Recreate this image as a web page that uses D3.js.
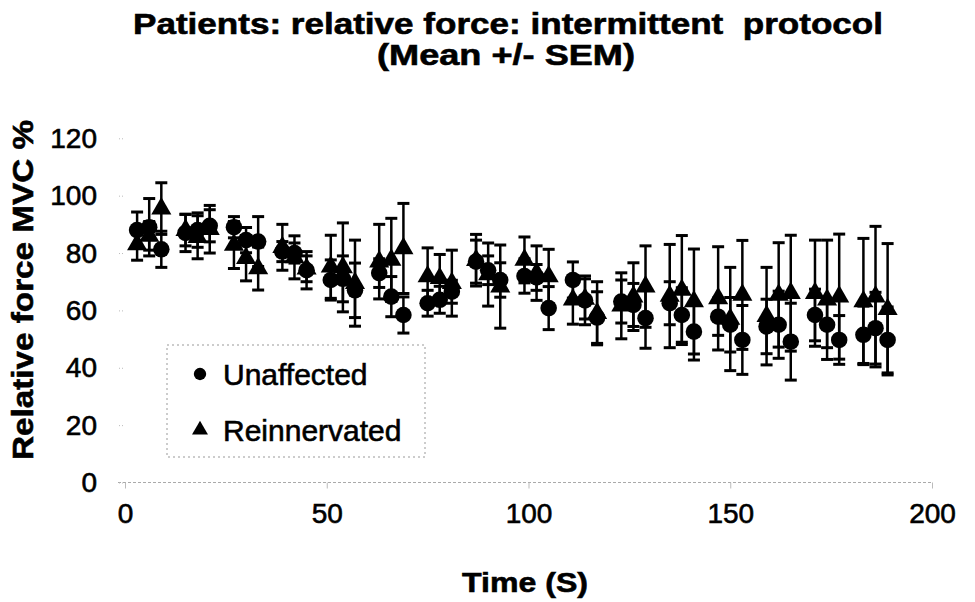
<!DOCTYPE html>
<html>
<head>
<meta charset="utf-8">
<script src="https://cdn.jsdelivr.net/npm/d3@7"></script>
<style>
  body { margin: 0; background: #fff; }
  svg text { font-family: "Liberation Sans", Arial, Helvetica, sans-serif; fill: #000; white-space: pre; }
  .heavy { stroke: #000; stroke-width: 0.6px; }
</style>
</head>
<body>
<svg id="chart"></svg>
<script>
// time (s) of each contraction
var times = [3, 6, 9, 15, 18, 21, 27, 30, 33, 39, 42, 45, 51, 54, 57, 63, 66, 69,
    75, 78, 81, 87, 90, 93, 99, 102, 105, 111, 114, 117, 123, 126, 129,
    135, 138, 141, 147, 150, 153, 159, 162, 165, 171, 174, 177, 183, 186, 189];

var unaffected = [88, 89, 81.3, 87, 88, 89.5, 89, 84.5, 84, 80.5, 80, 74, 70.6, 71, 67, 73,
    64.8, 58.4, 62.5, 63.7, 66.5, 77, 74, 70.6, 72, 71.5, 60.8, 70.6, 63.5, 57.5, 63.1,
    61.9, 57.3, 62.5, 58.4, 52.6, 57.8, 55, 49.7, 54.4, 55, 49.1, 58.4, 55, 49.7, 51.5, 53.8, 49.7];
var unaffectedSem = [6.3, 10, 6.3, 6.5, 6, 5.6, 3.7, 4.4, 8.7, 3.5, 3.5, 6.5, 7, 8, 9.5, 5,
    7, 6.3, 4.5, 4.7, 4, 7.5, 5, 6, 6, 4.5, 7.5, 6.3, 8.5, 9, 7.5,
    7.5, 10.5, 7.5, 9.5, 9.9, 6.5, 9.5, 12, 9.5, 11.7, 13.4, 9, 8, 8.5, 10, 12.5, 11.5];

var reinnervated = [83, 86, 95.5, 88, 85.5, 88.3, 82.8, 78.2, 74.6, 82, 78.5, 74.5, 75.2, 75, 69.5, 77,
    77.6, 81.6, 71.8, 71.2, 69.5, 77.5, 72.5, 68.3, 77.6, 73, 71.8, 63.7, 64, 59, 61.6,
    64.8, 68.3, 65, 67.1, 63.1, 64.2, 57, 65.4, 58, 65.4, 66, 66, 63.7, 64.8, 63.1, 64.8, 60.4];
var reinnervatedSem = [5.5, 5, 9, 5.5, 7.5, 8.3, 8.2, 7.9, 7.5, 8, 7.5, 4.5, 11, 15.5, 15, 13,
    14.5, 15.7, 10, 8.3, 11.5, 9, 11, 14.5, 8, 9.5, 9.5, 8.5, 7, 11, 11.5,
    11.8, 14.2, 18, 19, 18.3, 18, 18, 19, 17, 18.2, 20.2, 18.5, 20.8, 21.8, 22, 24.5, 22.9];

var xTicks = [0, 50, 100, 150, 200];
var yTicks = [0, 20, 40, 60, 80, 100, 120];
var seriesNames = ["Unaffected", "Reinnervated"];

var width = 975,
    height = 602;

var svg = d3.select("#chart")
    .attr("width", width)
    .attr("height", height);

var x = d3.scaleLinear()
    .domain([0, 200])
    .range([125, 932]);

var y = d3.scaleLinear()
    .domain([0, 120])
    .range([482.5, 138.3]);

// title
svg.append("text")
    .attr("x", 508)
    .attr("y", 34)
    .attr("text-anchor", "middle")
    .attr("class", "heavy")
    .style("font-size", "29px")
    .style("font-weight", "bold")
    .attr("textLength", 750)
    .attr("lengthAdjust", "spacingAndGlyphs")
    .text("Patients: relative force: intermittent  protocol");

svg.append("text")
    .attr("x", 506)
    .attr("y", 65)
    .attr("text-anchor", "middle")
    .attr("class", "heavy")
    .style("font-size", "29px")
    .style("font-weight", "bold")
    .attr("textLength", 258)
    .attr("lengthAdjust", "spacingAndGlyphs")
    .text("(Mean +/- SEM)");

// axes (faint, like the scanned excel chart)
var xAxis = d3.axisBottom(x)
    .tickValues(xTicks)
    .tickSize(6)
    .tickPadding(14);

var yAxis = d3.axisLeft(y)
    .tickValues(yTicks)
    .tickSize(5)
    .tickPadding(16);

var gx = svg.append("g")
    .attr("transform", "translate(0," + y(0) + ")")
    .call(xAxis);
gx.select(".domain")
    .attr("d", "M118,0H932")
    .attr("stroke", "#aaa")
    .attr("stroke-dasharray", "3,2");
gx.selectAll(".tick line").attr("stroke", "#bbb");
gx.selectAll(".tick text")
    .attr("class", "heavy")
    .style("font-size", "28px")
    .attr("dy", "0.72em");

var gy = svg.append("g")
    .attr("transform", "translate(123,0)")
    .call(yAxis);
gy.select(".domain").remove();
gy.selectAll(".tick line")
    .attr("stroke", "#bbb")
    .attr("stroke-dasharray", "1,2");
gy.selectAll(".tick text")
    .attr("class", "heavy")
    .style("font-size", "28px")
    .attr("x", -26);

svg.append("text")
    .attr("transform", "translate(33,290) rotate(-90)")
    .attr("text-anchor", "middle")
    .attr("class", "heavy")
    .style("font-size", "30px")
    .style("font-weight", "bold")
    .attr("textLength", 340)
    .attr("lengthAdjust", "spacingAndGlyphs")
    .text("Relative force MVC %");

svg.append("text")
    .attr("x", 525)
    .attr("y", 592)
    .attr("text-anchor", "middle")
    .attr("class", "heavy")
    .style("font-size", "28px")
    .style("font-weight", "bold")
    .attr("textLength", 126)
    .attr("lengthAdjust", "spacingAndGlyphs")
    .text("Time (S)");

// build rows for each series
var series = [
    { name: seriesNames[0], shape: d3.symbolCircle, size: 215, vals: unaffected, sem: unaffectedSem },
    { name: seriesNames[1], shape: d3.symbolTriangle, size: 175, vals: reinnervated, sem: reinnervatedSem }
];

series.forEach(function(s) {
    var rows = times.map(function(t, i) {
        return { t: t, v: s.vals[i], e: s.sem[i] };
    });
    var g = svg.append("g");

    var bars = g.selectAll(".err")
        .data(rows)
        .enter().append("g")
        .attr("class", "err");

    bars.append("line")
        .attr("x1", function(d) { return x(d.t); })
        .attr("x2", function(d) { return x(d.t); })
        .attr("y1", function(d) { return y(d.v + d.e); })
        .attr("y2", function(d) { return y(d.v - d.e); })
        .attr("stroke", "#000")
        .attr("stroke-width", 2.5);

    [1, -1].forEach(function(sign) {
        bars.append("line")
            .attr("x1", function(d) { return x(d.t) - 6; })
            .attr("x2", function(d) { return x(d.t) + 6; })
            .attr("y1", function(d) { return y(d.v + sign * d.e); })
            .attr("y2", function(d) { return y(d.v + sign * d.e); })
            .attr("stroke", "#000")
            .attr("stroke-width", 3);
    });

    g.selectAll(".pt")
        .data(rows)
        .enter().append("path")
        .attr("class", "pt")
        .attr("d", d3.symbol().type(s.shape).size(s.size))
        .attr("transform", function(d) {
            return "translate(" + x(d.t) + "," + y(d.v) + ")";
        })
        .attr("fill", "#000");
});

// legend
var legend = svg.append("g");
legend.append("rect")
    .attr("x", 167)
    .attr("y", 345)
    .attr("width", 258)
    .attr("height", 112)
    .attr("fill", "none")
    .attr("stroke", "#999")
    .attr("stroke-width", 1)
    .attr("stroke-dasharray", "2,3");

series.forEach(function(s, i) {
    var ly = 374 + i * 56;
    legend.append("path")
        .attr("d", d3.symbol().type(s.shape).size(i == 0 ? 120 : 110))
        .attr("transform", "translate(200," + ly + ")")
        .attr("fill", "#000");
    legend.append("text")
        .attr("x", 223)
        .attr("y", ly + 11)
        .attr("class", "heavy")
        .style("font-size", "30px")
        .text(s.name);
});
</script>
</body>
</html>
